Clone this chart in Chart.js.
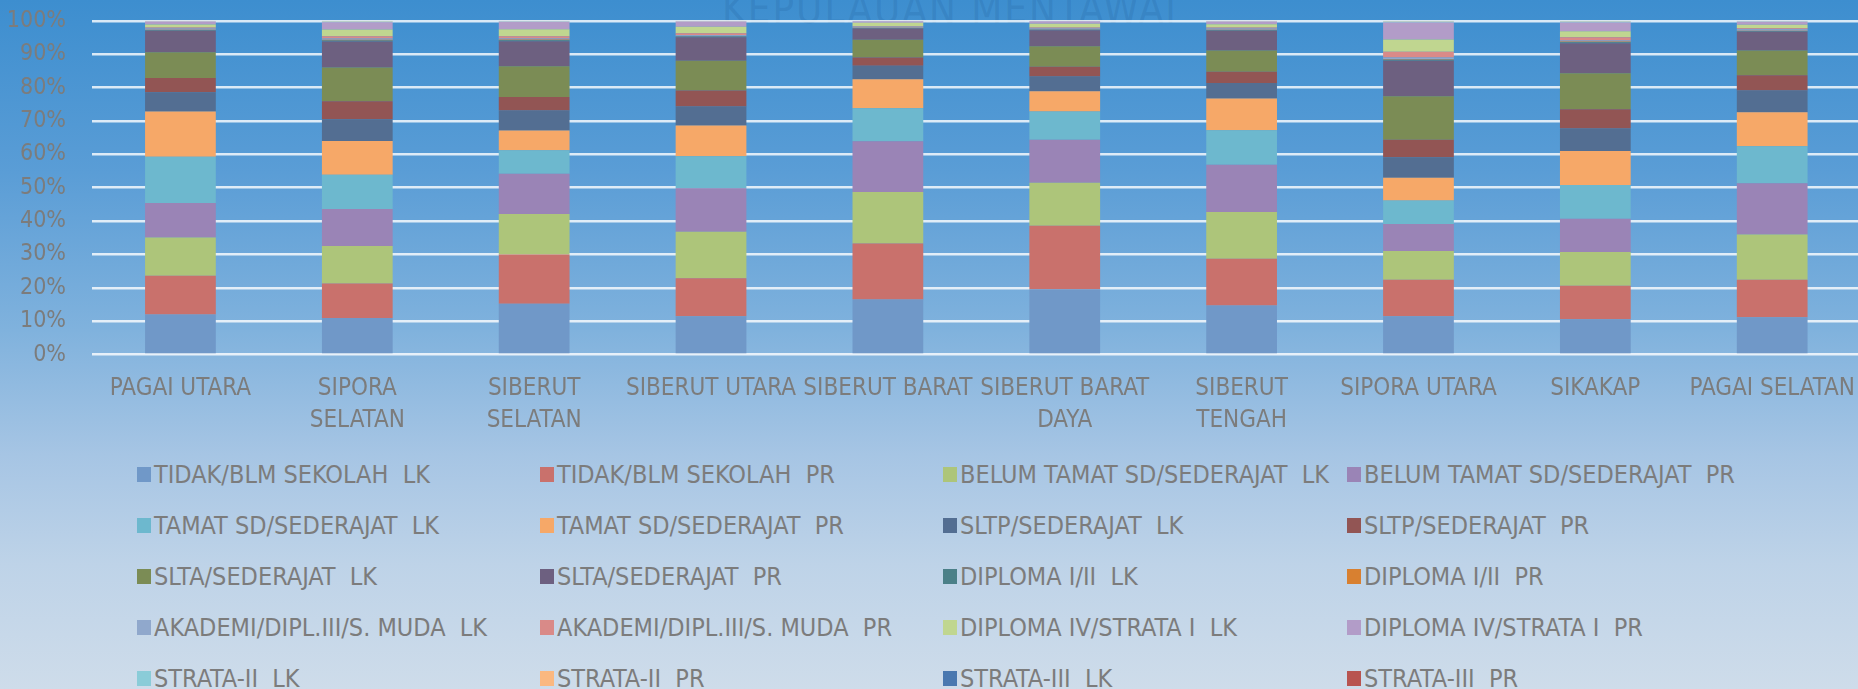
<!DOCTYPE html>
<html>
<head>
<meta charset="utf-8">
<script src="https://cdn.jsdelivr.net/npm/chart.js@4.4.1/dist/chart.umd.min.js"></script>
<style>
  html, body { margin: 0; padding: 0; width: 1858px; height: 689px; overflow: hidden; }
  body {
    background: linear-gradient(to bottom, #3d8ecf 0%, #5a9dd6 25%, #80b2dd 48%, #a6c5e4 66%, #bed3e8 82%, #cedcea 100%);
    font-family: "Liberation Sans Narrow", "DejaVu Sans Condensed", "Roboto", sans-serif;
    position: relative;
  }
  #mark {
    position: absolute; left: 700px; top: -14px; width: 500px; text-align: center;
    font-size: 40px; color: rgba(30, 90, 150, 0.2); letter-spacing: 2px;
  }
  #wrap { position: absolute; left: 0; top: -19px; width: 1866px; height: 466px; }
  #legend {
    position: absolute; left: 137px; top: 458px;
    display: grid; grid-template-columns: 403px 403px 404px 404px; grid-auto-rows: 51px;
  }
  .item { display: flex; align-items: center; height: 32px; color: #7c7c7c; font-size: 25px; white-space: pre; }
  .box { width: 14px; height: 15px; margin-right: 3px; flex: none; }
</style>
</head>
<body>
<div id="mark">KEPULAUAN MENTAWAI</div>
<div id="wrap"><canvas id="chart"></canvas></div>
<div id="legend"></div>
<script>
// kecamatan
const categories = ['PAGAI UTARA', ['SIPORA', 'SELATAN'], ['SIBERUT', 'SELATAN'], 'SIBERUT UTARA', 'SIBERUT BARAT',
                    ['SIBERUT BARAT', 'DAYA'], ['SIBERUT', 'TENGAH'], 'SIPORA UTARA', 'SIKAKAP', 'PAGAI SELATAN'];

// persentase tiap jenjang pendidikan
const tidakLK   = [12.0, 11.0, 15.2, 11.5, 16.5, 19.6, 14.7, 11.5, 10.6, 11.2];
const tidakPR   = [11.6, 10.3, 14.8, 11.4, 16.8, 19.0, 14.0, 10.9, 10.0, 11.2];
const belumLK   = [11.5, 11.2, 12.1, 13.9, 15.4, 12.9, 14.0,  8.6, 10.1, 13.6];
const belumPR   = [10.3, 11.1, 12.1, 13.0, 15.2, 12.9, 14.2,  8.1, 10.0, 15.3];
const tamatLK   = [13.9, 10.3,  7.0,  9.6,  9.9,  8.4, 10.3,  7.1, 10.1, 11.1];
const tamatPR   = [13.5, 10.1,  5.9,  9.2,  8.7,  6.1,  9.5,  6.8, 10.2, 10.2];
const sltpLK    = [ 5.8,  6.5,  6.0,  5.7,  4.0,  4.4,  4.7,  6.1,  6.7,  6.5];
const sltpPR    = [ 4.3,  5.4,  4.1,  4.8,  2.5,  2.9,  3.3,  5.3,  5.8,  4.6];
const sltaLK    = [ 7.7, 10.1,  9.2,  8.9,  5.3,  6.2,  6.4, 13.0, 10.8,  7.4];
const sltaPR    = [ 6.4,  7.8,  7.5,  7.1,  3.4,  4.8,  5.9, 10.6,  9.0,  5.6];
const diplomaLK = [ 0.2,  0.3,  0.3,  0.2,  0.1,  0.1,  0.2,  0.3,  0.3,  0.2];
const diplomaPR = [ 0.1,  0.2,  0.2,  0.1,  0.1,  0.1,  0.1,  0.2,  0.2,  0.1];
const akademiLK = [ 0.4,  0.4,  0.3,  0.3,  0.3,  0.3,  0.4,  0.5,  0.3,  0.5];
const akademiPR = [ 0.3,  0.7,  0.7,  0.6,  0.2,  0.3,  0.3,  1.7,  1.0,  0.3];
const d4LK      = [ 0.9,  2.0,  2.1,  1.9,  1.0,  1.1,  1.0,  3.7,  1.8,  1.0];
const d4PR      = [ 0.9,  2.2,  2.2,  1.6,  0.5,  0.8,  0.8,  5.1,  2.6,  0.9];
const s2LK      = [ 0.1,  0.2,  0.2,  0.1, 0.05, 0.05,  0.1,  0.3,  0.3,  0.2];
const s2PR      = [ 0.1,  0.2,  0.1,  0.1, 0.05, 0.05,  0.1,  0.2,  0.2,  0.1];
const s3LK      = [ 0,    0,    0,    0,    0,    0,    0,    0,    0,    0  ];
const s3PR      = [ 0,    0,    0,    0,    0,    0,    0,    0,    0,    0  ];

const yTicks = [0, 10, 20, 30, 40, 50, 60, 70, 80, 90, 100];

const series = [
    ['TIDAK/BLM SEKOLAH  LK', tidakLK, '#7098c8'],
    ['TIDAK/BLM SEKOLAH  PR', tidakPR, '#c9716c'],
    ['BELUM TAMAT SD/SEDERAJAT  LK', belumLK, '#adc57a'],
    ['BELUM TAMAT SD/SEDERAJAT  PR', belumPR, '#9a84b6'],
    ['TAMAT SD/SEDERAJAT  LK', tamatLK, '#6db8ce'],
    ['TAMAT SD/SEDERAJAT  PR', tamatPR, '#f6a868'],
    ['SLTP/SEDERAJAT  LK', sltpLK, '#536e92'],
    ['SLTP/SEDERAJAT  PR', sltpPR, '#925554'],
    ['SLTA/SEDERAJAT  LK', sltaLK, '#7b8c55'],
    ['SLTA/SEDERAJAT  PR', sltaPR, '#6d6080'],
    ['DIPLOMA I/II  LK', diplomaLK, '#4b8088'],
    ['DIPLOMA I/II  PR', diplomaPR, '#d88030'],
    ['AKADEMI/DIPL.III/S. MUDA  LK', akademiLK, '#90a8cc'],
    ['AKADEMI/DIPL.III/S. MUDA  PR', akademiPR, '#d98a88'],
    ['DIPLOMA IV/STRATA I  LK', d4LK, '#c0d690'],
    ['DIPLOMA IV/STRATA I  PR', d4PR, '#b29cc8'],
    ['STRATA-II  LK', s2LK, '#8accd8'],
    ['STRATA-II  PR', s2PR, '#fab880'],
    ['STRATA-III  LK', s3LK, '#4a78b0'],
    ['STRATA-III  PR', s3PR, '#b85450']
];

// 100% bertumpuk: bagi dengan total per kecamatan
const totals = categories.map((c, i) => series.reduce((s, d) => s + d[1][i], 0));

const datasets = series.map(d => ({
    label: d[0],
    data: d[1].map((v, i) => v / totals[i] * 100),
    backgroundColor: d[2],
    borderWidth: 0,
    categoryPercentage: 1,
    barPercentage: 0.4
}));

const gray = '#7c7c7c';
const fontFam = '"Liberation Sans Narrow", "DejaVu Sans Condensed", "Roboto", sans-serif';

const chart = new Chart(document.getElementById('chart'), {
    type: 'bar',
    data: { labels: categories, datasets: datasets },
    options: {
        responsive: true,
        maintainAspectRatio: false,
        animation: false,
        layout: { padding: { left: 8, top: 8, right: 0, bottom: 0 } },
        plugins: { legend: { display: false }, tooltip: { enabled: false } },
        scales: {
            x: {
                stacked: true,
                grid: { display: false },
                border: { display: false },
                ticks: { color: gray, font: { family: fontFam, size: 24, lineHeight: 1.3 }, padding: 11, maxRotation: 0, autoSkip: false }
            },
            y: {
                stacked: true,
                min: 0,
                max: 100,
                afterBuildTicks: axis => { axis.ticks = yTicks.map(v => ({ value: v })); },
                afterFit: axis => { axis.width = 84; },
                grid: { color: 'rgba(255,255,255,0.8)', lineWidth: 2.5, drawTicks: false },
                border: { display: false },
                ticks: { color: gray, font: { family: fontFam, size: 23 }, padding: 26, callback: v => v + '%' }
            }
        }
    }
});

// legenda
const legend = document.getElementById('legend');
series.forEach(d => {
    const item = document.createElement('div');
    item.className = 'item';
    const box = document.createElement('span');
    box.className = 'box';
    box.style.background = d[2];
    item.appendChild(box);
    item.appendChild(document.createTextNode(d[0]));
    legend.appendChild(item);
});
</script>
</body>
</html>
